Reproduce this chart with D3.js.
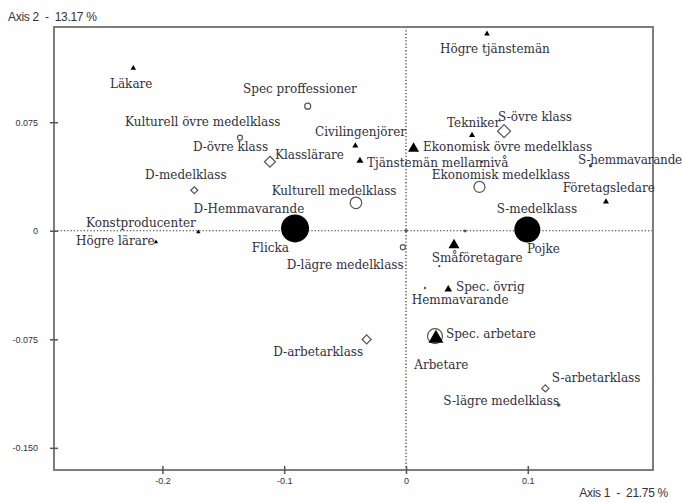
<!DOCTYPE html>
<html><head><meta charset="utf-8">
<script src="https://cdn.jsdelivr.net/npm/d3@7"></script>
<style>body{margin:0;background:#fff}</style>
</head><body><svg id="c" width="683" height="503"></svg>
<script>
// ---- data ----
const names = ["Läkare","Högre tjänstemän","Spec proffessioner","Kulturell övre medelklass","D-övre klass",
  "Klasslärare","Civilingenjörer","Ekonomisk övre medelklass","Tekniker","S-övre klass",
  "Tjänstemän mellannivå","S-hemmavarande","Ekonomisk medelklass","Företagsledare","Pojke",
  "Flicka","D-medelklass","D-Hemmavarande","Konstproducenter","Högre lärare",
  "Kulturell medelklass","D-lägre medelklass","Småföretagare","S-medelklass","",
  "Hemmavarande","Spec. övrig","Spec. arbetare","Arbetare","D-arbetarklass",
  "S-arbetarklass","S-lägre medelklass"];
const axis1 = [-0.2239,0.0665,-0.0807,-0.1363,-0.1117,
  -0.0378,-0.0416,0.0062,0.0542,0.0805,
  0.0624,0.1515,0.0603,0.1642,0.0996,
  -0.0911,-0.1738,0.0002,-0.1705,-0.2053,
  -0.0411,-0.0026,0.0394,0.0484,0.0273,
  0.0156,0.0347,0.0238,0.0246,-0.0323,
  0.1144,0.1254];
const axis2 = [0.1123,0.1361,0.0861,0.0643,0.0477,
  0.0484,0.0588,0.0568,0.0660,0.0688,
  0.0477,0.0450,0.0303,0.0200,0.0009,
  0.0016,0.0280,0.0001,-0.0008,-0.0077,
  0.0193,-0.0113,-0.0099,-0.0001,-0.0244,
  -0.0396,-0.0405,-0.0728,-0.0744,-0.0751,
  -0.1089,-0.1204];
const kinds = ["tri","tri","circle","circle","diamond",
  "tri","tri","tri","tri","diamond",
  "tri","dot","circle","tri","disc",
  "disc","diamond","dot","tri","tri",
  "circle","circle","tri","dot","dot",
  "dot","tri","circle","tri","diamond",
  "diamond","dot"];
const masses = [2.15,2.15,2.5,1.7,8.3,
  3.4,2.5,8.3,2.5,11.6,
  0.6,0.9,8.3,2.5,46.4,
  53.6,3.4,0.6,1.3,1.3,
  9.2,1.7,8.3,0.6,0.4,
  0.4,4.0,15.4,15.4,5.6,
  3.4,0.9];
const xTicks = [-0.2,-0.1,0,0.1];
const xTickLabels = ["-0.2","-0.1","0","0.1"];
const yTicks = [0.075,0,-0.075,-0.15];
const yTickLabels = ["0.075","0","-0.075","-0.150"];
const axis1Title = "Axis 1  -  21.75 %";
const axis2Title = "Axis 2  -  13.17 %";

// ---- layout (label placement relative to marker: left edge dx, centre dy) ----
const labelOffsets = [[-23.3,15.5],[-47,15.5],[-64.7,-17],[-115,-15.5],[-77,-14.5],
  [-85,-5.5],[-40.3,-13.5],[9.5,-1.6],[-25,-12],[-6,-14],
  [-115,1.5],[-12.5,-5.5],[-47.8,-12.2],[-43.3,-13.4],[-0.3,20],
  [-43.3,20],[-49.3,-15],[-212.7,-21.2],[-112.3,-9],[-80,-1],
  [-84.3,-12],[-116.1,18],[-22.3,13.3],[31.7,-22.4],[0,0],
  [-13.3,12],[7.7,-2.3],[11,-2.5],[-21.7,26.7],[-93.4,12.4],
  [6.4,-10],[-115.4,-4.3]];

const L = 54, R = 653, T = 27, B = 470;
const svg = d3.select("#c");
const x = d3.scaleLinear().domain([-0.289, 0.2028]).range([L, R]);
const y = d3.scaleLinear().domain([-0.1653, 0.1408]).range([B, T]);
const rS = d3.scaleSqrt().domain([0, 50]).range([0, 13.5]);

// zero lines
svg.append("line").attr("x1", x(0)).attr("x2", x(0)).attr("y1", T).attr("y2", B)
  .attr("stroke", "#333").attr("stroke-width", 1.2).attr("stroke-dasharray", "1.3,2");
svg.append("line").attr("x1", L).attr("x2", R).attr("y1", y(0)).attr("y2", y(0))
  .attr("stroke", "#333").attr("stroke-width", 1.2).attr("stroke-dasharray", "1.3,2");

// frame
svg.append("rect").attr("x", L).attr("y", T).attr("width", R - L).attr("height", B - T)
  .attr("fill", "none").attr("stroke", "#7d7d7d").attr("stroke-width", 2);

// axes
const gx = svg.append("g").attr("transform", `translate(0,${B})`)
  .call(d3.axisBottom(x).tickValues(xTicks).tickFormat((d, i) => xTickLabels[i]).tickSize(4).tickPadding(4));
const gy = svg.append("g").attr("transform", `translate(${L},0)`)
  .call(d3.axisLeft(y).tickValues(yTicks).tickFormat((d, i) => yTickLabels[i]).tickSize(4).tickPadding(12));
[gx, gy].forEach(g => {
  g.select(".domain").remove();
  g.selectAll("text").attr("font-family", "Liberation Sans, Arial, sans-serif").attr("font-size", 9).attr("fill", "#333");
  g.selectAll("line").attr("stroke", "#555").attr("stroke-width", 1.5);
});
gx.selectAll(".tick line").attr("y1", -4).attr("y2", 4);
gy.selectAll(".tick line").attr("x1", -4).attr("x2", 4);

// axis titles
svg.append("text").attr("x", 8).attr("y", 17).attr("dominant-baseline", "central")
  .style("white-space", "pre").attr("font-family", "Liberation Sans, Arial, sans-serif")
  .attr("font-size", 12).attr("letter-spacing", -0.3).attr("fill", "#333").text(axis2Title);
svg.append("text").attr("x", 668).attr("y", 493).attr("dominant-baseline", "central").attr("text-anchor", "end")
  .style("white-space", "pre").attr("font-family", "Liberation Sans, Arial, sans-serif")
  .attr("font-size", 12).attr("letter-spacing", -0.3).attr("fill", "#333").text(axis1Title);

// markers
const idx = d3.range(names.length);
function shapePath(kind, r) {
  if (kind === "tri") {
    const h = r * Math.sqrt(3);
    return `M0,${-2 * h / 3}L${r},${h / 3}L${-r},${h / 3}Z`;
  }
  if (kind === "diamond") return `M0,${-r}L${r},0L0,${r}L${-r},0Z`;
  return null;
}
const mk = svg.append("g");
idx.forEach(i => {
  const cx = x(axis1[i]), cy = y(axis2[i]), r = rS(masses[i]), k = kinds[i];
  if (k === "disc") {
    mk.append("circle").attr("cx", cx).attr("cy", cy).attr("r", r).attr("fill", "#000");
  } else if (k === "circle") {
    mk.append("circle").attr("cx", cx).attr("cy", cy).attr("r", r).attr("fill", "none")
      .attr("stroke", "#555").attr("stroke-width", 1.2);
  } else if (k === "dot") {
    mk.append("circle").attr("cx", cx).attr("cy", cy).attr("r", r).attr("fill", "#555");
  } else if (k === "tri") {
    mk.append("path").attr("transform", `translate(${cx},${cy})`).attr("d", shapePath(k, r)).attr("fill", "#000");
  } else if (k === "diamond") {
    mk.append("path").attr("transform", `translate(${cx},${cy})`).attr("d", shapePath(k, r))
      .attr("fill", "none").attr("stroke", "#555").attr("stroke-width", 1.2);
  }
});

// labels
const lg = svg.append("g").attr("font-family", "DejaVu Serif, serif").attr("font-size", 12).attr("fill", "#30303c");
idx.forEach(i => {
  if (!names[i]) return;
  lg.append("text")
    .attr("x", x(axis1[i]) + labelOffsets[i][0])
    .attr("y", y(axis2[i]) + labelOffsets[i][1])
    .attr("dominant-baseline", "central")
    .attr("letter-spacing", names[i] === "S-hemmavarande" ? -0.2 : 0)
    .text(names[i]);
});
</script></body></html>
